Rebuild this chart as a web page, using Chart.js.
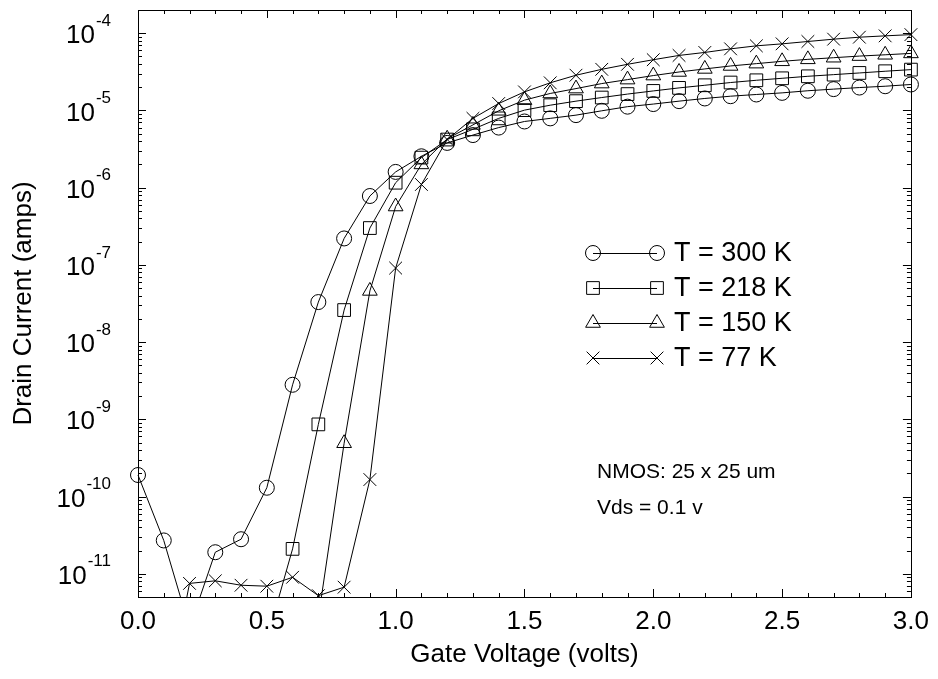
<!DOCTYPE html>
<html>
<head>
<meta charset="utf-8">
<script src="https://cdn.jsdelivr.net/npm/chart.js@4.4.0/dist/chart.umd.min.js"></script>
<style>
  html, body { margin: 0; padding: 0; background: #fff; }
</style>
</head>
<body>
<canvas id="ivChart" width="938" height="679"></canvas>
<script>
// Gate voltage steps (volts)
const volts = [0.0, 0.1, 0.2, 0.3, 0.4, 0.5, 0.6, 0.7, 0.8, 0.9, 1.0,
               1.1, 1.2, 1.3, 1.4, 1.5, 1.6, 1.7, 1.8, 1.9, 2.0,
               2.1, 2.2, 2.3, 2.4, 2.5, 2.6, 2.7, 2.8, 2.9, 3.0];

// Drain current (amps), null = not visible
const i300 = [1.9e-10, 2.7e-11, 2.0e-12, 1.9e-11, 2.8e-11, 1.3e-10, 2.8e-9, 3.3e-8, 2.2e-7, 7.8e-7, 1.6e-6,
              2.55e-6, 3.8e-6, 4.8e-6, 6.0e-6, 7.2e-6, 7.9e-6, 8.7e-6, 9.9e-6, 1.12e-5, 1.21e-5,
              1.32e-5, 1.43e-5, 1.53e-5, 1.61e-5, 1.69e-5, 1.8e-5, 1.89e-5, 1.98e-5, 2.06e-5, 2.17e-5];
const i218 = [null, null, null, null, null, 1.4e-12, 2.1e-11, 8.6e-10, 2.6e-8, 3.0e-7, 1.16e-6,
              2.45e-6, 4.2e-6, 5.7e-6, 7.9e-6, 1.01e-5, 1.17e-5, 1.32e-5, 1.47e-5, 1.63e-5, 1.79e-5,
              1.96e-5, 2.12e-5, 2.30e-5, 2.46e-5, 2.61e-5, 2.77e-5, 2.91e-5, 3.06e-5, 3.22e-5, 3.38e-5];
const i150 = [null, null, null, null, null, null, null, 2.7e-12, 4.9e-10, 4.6e-8, 5.7e-7,
              2.0e-6, 4.3e-6, 6.5e-6, 9.9e-6, 1.36e-5, 1.66e-5, 1.92e-5, 2.23e-5, 2.51e-5, 2.83e-5,
              3.15e-5, 3.45e-5, 3.77e-5, 4.04e-5, 4.33e-5, 4.59e-5, 4.82e-5, 5.06e-5, 5.26e-5, 5.48e-5];
const i77  = [null, 1.5e-13, 7.5e-12, 8.1e-12, 7.1e-12, 6.9e-12, 9.0e-12, 5.2e-12, 6.7e-12, 1.66e-10, 9.1e-8,
              1.1e-6, 4.2e-6, 7.9e-6, 1.23e-5, 1.74e-5, 2.28e-5, 2.86e-5, 3.41e-5, 3.96e-5, 4.54e-5,
              5.16e-5, 5.64e-5, 6.28e-5, 6.87e-5, 7.29e-5, 7.82e-5, 8.38e-5, 8.89e-5, 9.25e-5, 9.6e-5];

const seriesLabels = ['T = 300 K', 'T = 218 K', 'T = 150 K', 'T = 77 K'];
const yDecades = [-11, -10, -9, -8, -7, -6, -5, -4];
const notes = ['NMOS: 25 x 25 um', 'Vds = 0.1 v'];

const FONT = '"Liberation Sans", Arial, Helvetica, sans-serif';

function makeSet(label, values, style, radius) {
    return {
        label: label,
        data: volts.map((v, i) => ({ x: v, y: values[i] })),
        borderColor: '#000',
        borderWidth: 1,
        backgroundColor: 'rgba(0,0,0,0)',
        pointStyle: style,
        pointRadius: radius,
        pointBorderColor: '#000',
        pointBorderWidth: 1,
        pointBackgroundColor: 'rgba(0,0,0,0)',
        tension: 0,
        clip: { left: 12, right: 12, top: 0, bottom: 0 }
    };
}

// frame, inside ticks and 10^n labels
const framePlugin = {
    id: 'frame',
    afterDraw(chart) {
        const { ctx, chartArea: a, scales } = chart;
        const xs = scales.x, ys = scales.y;
        ctx.save();
        ctx.strokeStyle = '#000';
        ctx.lineWidth = 1;
        ctx.strokeRect(Math.round(a.left) + 0.5, Math.round(a.top) + 0.5,
                       Math.round(a.right - a.left), Math.round(a.bottom - a.top));
        ctx.beginPath();
        for (let i = 0; i <= 30; i++) {
            const px = Math.round(xs.getPixelForValue(i / 10)) + 0.5;
            const len = i % 5 === 0 ? 8 : 4;
            ctx.moveTo(px, a.bottom); ctx.lineTo(px, a.bottom - len);
            ctx.moveTo(px, a.top); ctx.lineTo(px, a.top + len);
        }
        for (let e = -12; e <= -4; e++) {
            for (let m = 1; m <= 9; m++) {
                const v = m * Math.pow(10, e);
                if (v < ys.min || v > ys.max) continue;
                const py = Math.round(ys.getPixelForValue(v)) + 0.5;
                const len = m === 1 ? 8 : 4;
                ctx.moveTo(a.left, py); ctx.lineTo(a.left + len, py);
                ctx.moveTo(a.right, py); ctx.lineTo(a.right - len, py);
            }
        }
        ctx.stroke();

        // y labels with superscript exponent
        ctx.fillStyle = '#000';
        ctx.textBaseline = 'middle';
        ctx.textAlign = 'left';
        yDecades.forEach(e => {
            const py = ys.getPixelForValue(Math.pow(10, e));
            const sup = String(e);
            ctx.font = '17px ' + FONT;
            const sw = ctx.measureText(sup).width;
            const right = a.left - 27;
            ctx.fillText(sup, right - sw, py - 12);
            ctx.font = '26px ' + FONT;
            const bw = ctx.measureText('10').width;
            ctx.fillText('10', right - sw - bw - 1, py + 3);
        });
        ctx.restore();
    }
};

// legend inside the plot: marker - line - marker
const legendPlugin = {
    id: 'innerLegend',
    afterDraw(chart) {
        const ctx = chart.ctx;
        const x1 = 593, x2 = 657, tx = 674, y0 = 253, dy = 35;
        ctx.save();
        chart.data.datasets.forEach((ds, i) => {
            const y = y0 + i * dy;
            ctx.strokeStyle = '#000';
            ctx.fillStyle = 'rgba(0,0,0,0)';
            ctx.lineWidth = 1;
            ctx.beginPath();
            ctx.moveTo(x1, y + 0.5);
            ctx.lineTo(x2, y + 0.5);
            ctx.stroke();
            const opts = { pointStyle: ds.pointStyle, radius: ds.pointRadius, borderWidth: 1, rotation: 0 };
            Chart.helpers.drawPoint(ctx, opts, x1, y);
            Chart.helpers.drawPoint(ctx, opts, x2, y);
            ctx.fillStyle = '#000';
            ctx.font = '27px ' + FONT;
            ctx.textBaseline = 'middle';
            ctx.textAlign = 'left';
            ctx.fillText(ds.label, tx, y + 1);
        });
        ctx.font = '21px ' + FONT;
        ctx.fillText(notes[0], 597, 472);
        ctx.fillText(notes[1], 597, 508);
        ctx.restore();
    }
};

const ctx = document.getElementById('ivChart').getContext('2d');
const ivChart = new Chart(ctx, {
    type: 'line',
    data: {
        datasets: [
            makeSet(seriesLabels[0], i300, 'circle', 7.5),
            makeSet(seriesLabels[1], i218, 'rect', 9),
            makeSet(seriesLabels[2], i150, 'triangle', 8.5),
            makeSet(seriesLabels[3], i77, 'crossRot', 9)
        ]
    },
    options: {
        responsive: false,
        animation: false,
        layout: { padding: { top: 7, right: 25, left: 0, bottom: 0 } },
        plugins: {
            legend: { display: false },
            tooltip: { enabled: false }
        },
        scales: {
            x: {
                type: 'linear',
                min: 0,
                max: 3,
                grid: { display: false, drawTicks: false },
                border: { display: false },
                ticks: {
                    stepSize: 0.5,
                    padding: 9,
                    color: '#000',
                    font: { family: FONT, size: 26 },
                    callback: v => v.toFixed(1)
                },
                title: {
                    display: true,
                    text: 'Gate Voltage (volts)',
                    color: '#000',
                    font: { family: FONT, size: 26 },
                    padding: { top: 0, bottom: 9 }
                },
                afterFit(scale) { scale.height = 82; }
            },
            y: {
                type: 'logarithmic',
                min: 5e-12,
                max: 2e-4,
                grid: { display: false, drawTicks: false },
                border: { display: false },
                ticks: { display: false },
                title: {
                    display: true,
                    text: 'Drain Current (amps)',
                    color: '#000',
                    font: { family: FONT, size: 26 },
                    padding: { top: 8, bottom: 0 }
                },
                afterFit(scale) { scale.width = 138; }
            }
        }
    },
    plugins: [framePlugin, legendPlugin]
});
</script>
</body>
</html>
